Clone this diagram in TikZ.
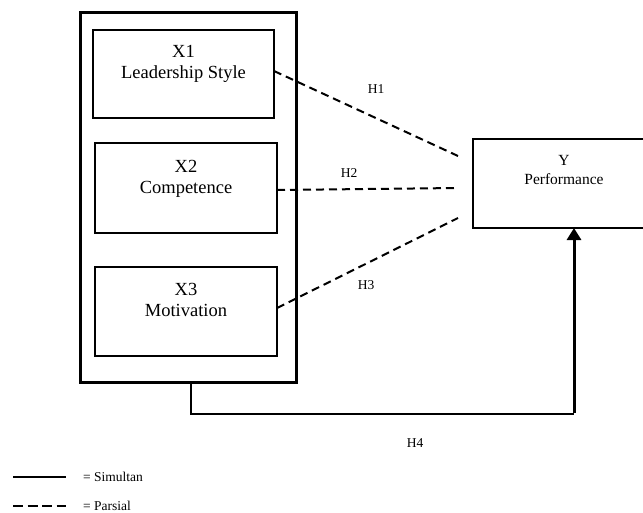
\documentclass[tikz,border=0pt]{standalone}
\usepackage{fontspec}
\setmainfont{Liberation Serif}
\usetikzlibrary{arrows.meta}
\begin{document}
\begin{tikzpicture}[x=1pt,y=-1pt,
  box/.style={draw,line width=1.5pt,inner sep=0pt,outer sep=0pt},
  frame/.style={draw,line width=3pt,inner sep=0pt,outer sep=0pt},
  vartext/.style={font=\fontsize{18.5}{21}\selectfont,align=center,inner sep=0pt,anchor=base},
  ytext/.style={font=\fontsize{15.5}{19}\selectfont,align=center,inner sep=0pt,anchor=base},
  hyp/.style={font=\fontsize{13.5}{16}\selectfont,inner sep=0pt,anchor=base},
  legtext/.style={font=\fontsize{13.5}{16}\selectfont,inner sep=0pt,anchor=base west},
  partial/.style={line width=2pt,dash pattern=on 8pt off 5pt},
  simul/.style={line width=1.5pt},
  simularrow/.style={line width=3pt,-{Triangle[length=12pt,width=14pt]}}]
\useasboundingbox (0,0) rectangle (643,512);
\clip (0,0) rectangle (643,512);

% outer frame grouping the independent variables
\node[frame,minimum width=216pt,minimum height=370pt] (outer) at (188,197) {};

% independent variables (text anchored on the baseline of the last line)
\node[box,minimum width=181pt,minimum height=88pt] (x1) at (183.5,74) {};
\node[box,minimum width=182pt,minimum height=90pt] (x2) at (186,188) {};
\node[box,minimum width=182pt,minimum height=89pt] (x3) at (186,311.5) {};
\node[vartext] (x1t) at (183.5,78) {X1\\Leadership Style};
\node[vartext] (x2t) at (186,193) {X2\\Competence};
\node[vartext] (x3t) at (186,316) {X3\\Motivation};

% dependent variable
\node[box,minimum width=182pt,minimum height=89pt] (y) at (564,183.5) {};
\node[ytext] (yt) at (564,184) {Y\\Performance};

% partial effects
\coordinate (e1) at (458,156);
\coordinate (e2) at (458,188);
\coordinate (e3) at (458,218);
\draw[partial] ([yshift=3pt]x1.east) -- (e1);
\draw[partial] ([yshift=-2pt]x2.east) -- (e2);
\draw[partial] ([yshift=3.5pt]x3.east) -- (e3);
\node[hyp] (h1) at (376,93) {H1};
\node[hyp] (h2) at (349,177) {H2};
\node[hyp] (h3) at (366,289) {H3};

% simultaneous effect
\coordinate (s0) at (191,382);
\coordinate (s1) at (191,414);
\coordinate (s2) at (574,414);
\draw[simul] (s0) -- (s1) -- (s2);
\draw[simularrow] ([yshift=0.75pt]s2) -- (y.south -| s2);
\node[hyp] (h4) at (415,447) {H4};

% legend
\coordinate (l1a) at (13,477);
\coordinate (l1b) at (66,477);
\coordinate (l2a) at (13,506);
\coordinate (l2b) at (66,506);
\draw[simul] (l1a) -- (l1b);
\draw[line width=2.5pt,dash pattern=on 10pt off 4.5pt] (l2a) -- (l2b);
\node[legtext] (lg1) at (83,481) {= Simultan};
\node[legtext] (lg2) at (83,510) {= Parsial};
\end{tikzpicture}
\end{document}
